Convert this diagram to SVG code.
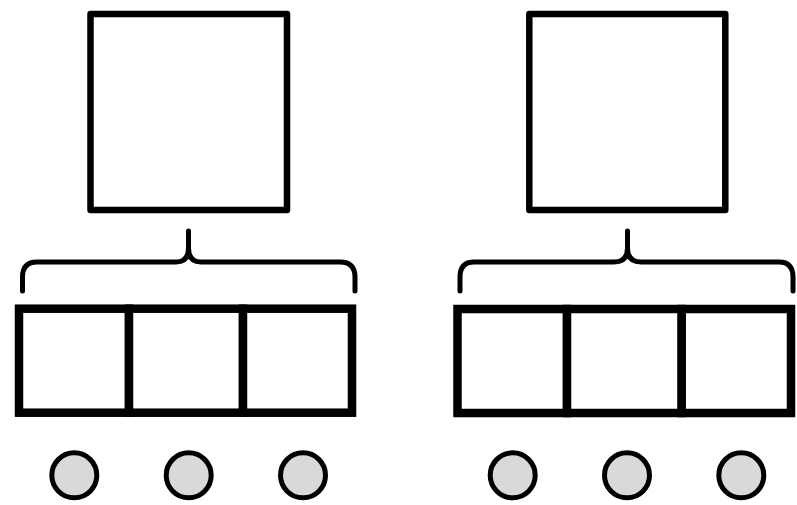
<svg xmlns="http://www.w3.org/2000/svg" width="797" height="505" viewBox="0 0 797 505">
<style>
.box{fill:#fff;stroke:#000;stroke-width:6.5;stroke-linejoin:round}
.cell{fill:#fff;stroke:#000;stroke-width:8.5}
.dot{fill:#d9d9d9;stroke:#000;stroke-width:5}
.brace{fill:none;stroke:#000;stroke-width:5;stroke-linecap:round;stroke-linejoin:round}
</style>
<rect width="797" height="505" fill="#fff"/>
<g id="parent-left"><rect class="box" x="90.5" y="14" width="196.5" height="196"/></g>
<g id="parent-right"><rect class="box" x="529.3" y="14" width="196" height="196"/></g>
<g id="connectors">
<path class="brace" d="M22.5,291 V277 Q22.5,262 37,262 H176 Q188.5,262 188.5,248 V231 M188.5,248 Q188.5,262 201,262 H340 Q355,262 355,277 V291"/>
<path class="brace" d="M460,291 V277 Q460,262 474,262 H614 Q627.5,262 627.5,248 V231 M627.5,248 Q627.5,262 641,262 H779 Q793,262 793,277 V291"/>
</g>
<g id="row-left">
<rect class="cell" x="19" y="308.7" width="110" height="104"/>
<rect class="cell" x="129" y="308.7" width="114" height="104"/>
<rect class="cell" x="243" y="308.7" width="109" height="104"/>
</g>
<g id="row-right">
<rect class="cell" x="457.5" y="309" width="109.5" height="104"/>
<rect class="cell" x="567" y="309" width="114.7" height="104"/>
<rect class="cell" x="681.7" y="309" width="109.3" height="104"/>
</g>
<g id="dots-left">
<circle class="dot" cx="74.3" cy="475.3" r="22.5"/>
<circle class="dot" cx="188.7" cy="475.3" r="22.5"/>
<circle class="dot" cx="303" cy="475.3" r="22.5"/>
</g>
<g id="dots-right">
<circle class="dot" cx="512.7" cy="475.3" r="22.5"/>
<circle class="dot" cx="627" cy="475.3" r="22.5"/>
<circle class="dot" cx="741.3" cy="475.3" r="22.5"/>
</g>
</svg>
